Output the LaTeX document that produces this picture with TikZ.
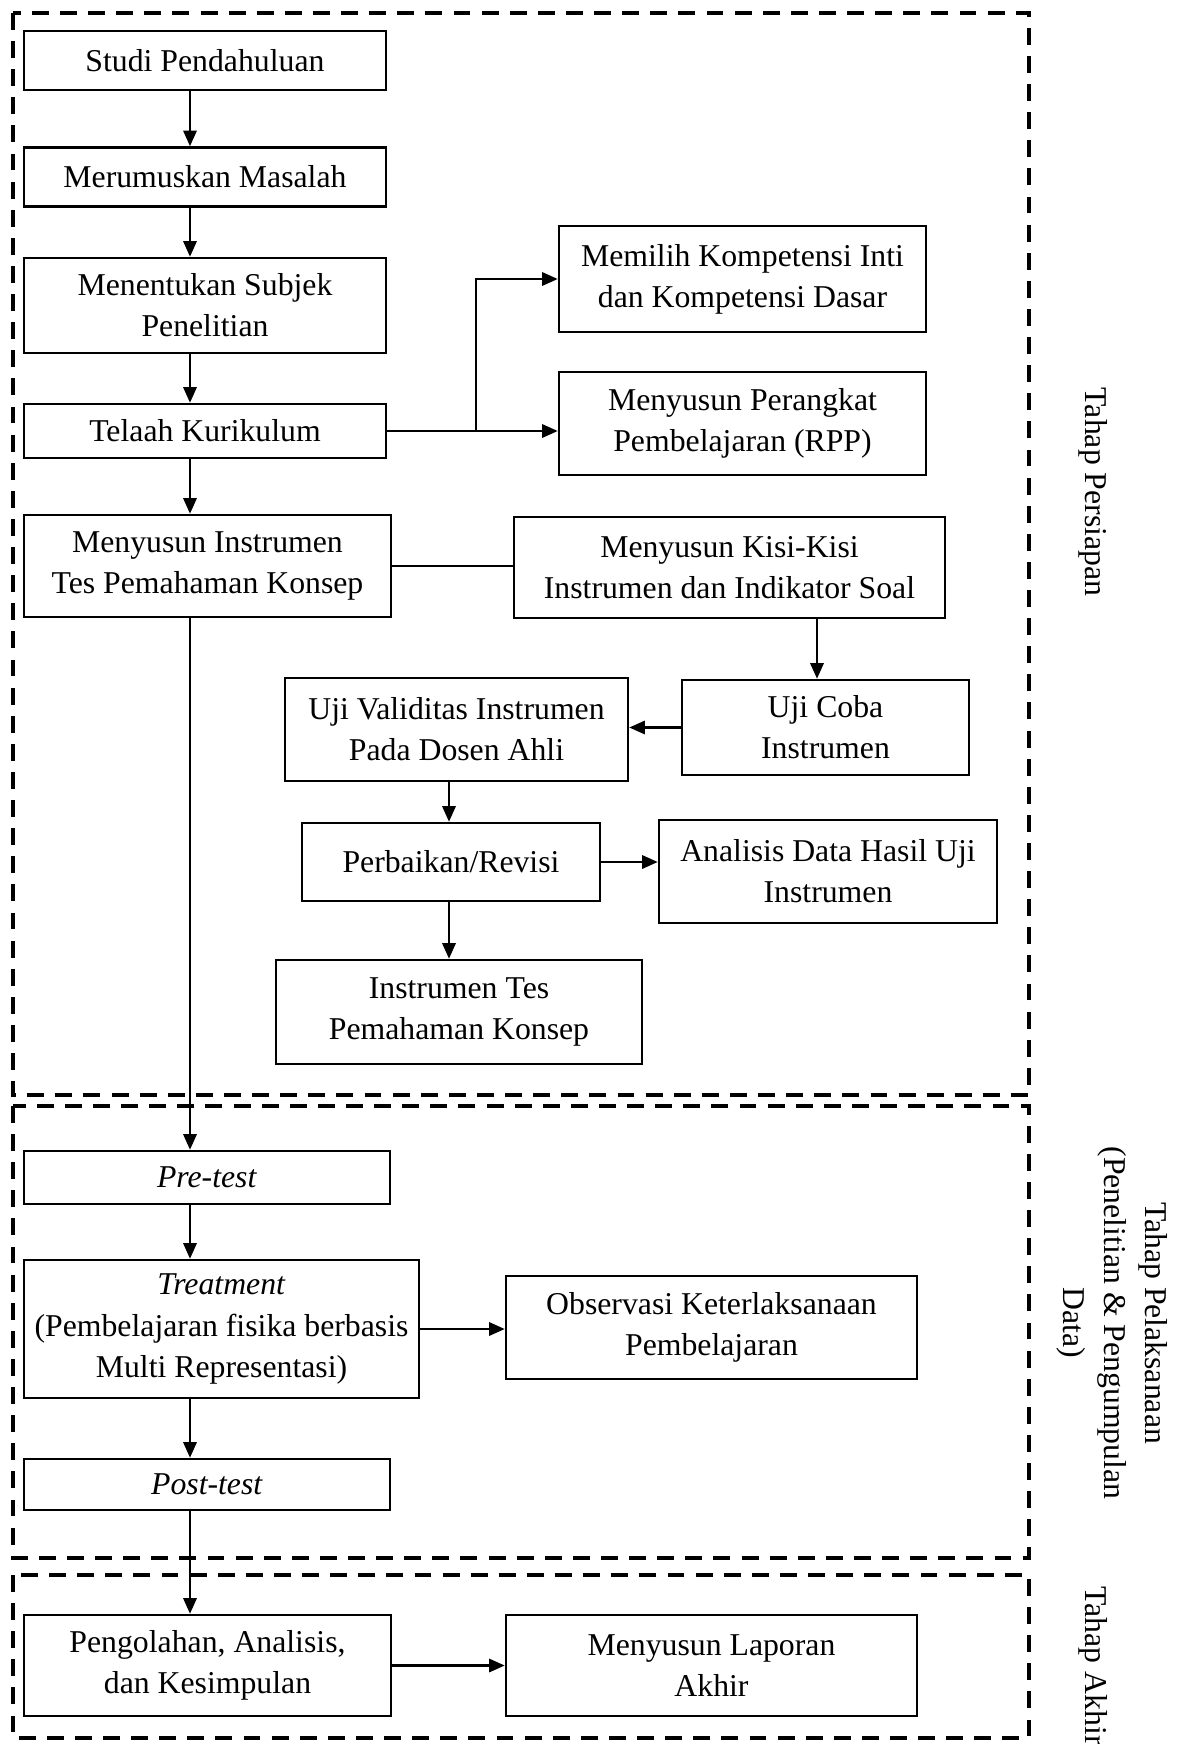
\documentclass[tikz,border=0pt]{standalone}
\usepackage{fontspec}
\setmainfont{Liberation Serif}
\usetikzlibrary{arrows.meta}

\begin{document}
\begin{tikzpicture}
  [x=0.0135cm,y=-0.0135cm,
   every node/.style={font=\fontsize{12.2}{15.8}\selectfont,align=center,inner sep=0pt},
   box/.style 2 args={draw=black,line width=0.9pt,minimum width=#1*0.0135cm,minimum height=#2*0.0135cm},
   arr/.style={line width=1.1pt,-{Triangle[length=6pt,width=5pt]}},
   frame/.style={line width=1.6pt,dash pattern=on 6.5pt off 4.3pt},
   phase/.style={rotate=-90}]
  \useasboundingbox (0,0) rectangle (1181,1744);

  % dashed stages
  \draw[frame] (13,13) rectangle (1029,1095);
  \draw[frame] (13,1106) rectangle (1029,1558);
  \draw[frame] (13,1575) rectangle (1029,1738);

  \node[phase] (lbl1) at (1093,492) {Tahap Persiapan};
  \node[phase] (lbl2) at (1112,1323) {Tahap Pelaksanaan\\(Penelitian \& Pengumpulan\\Data)};
  \node[phase] (lbl3) at (1093,1666) {Tahap Akhir};

  % left column
  \node[box={362}{59}]  (studi)   at (205,60.5)  {Studi Pendahuluan};
  \node[box={362}{59}]  (rumus)   at (205,177)   {Merumuskan Masalah};
  \node[box={362}{95}]  (subjek)  at (205,305.5) {Menentukan Subjek\\Penelitian};
  \node[box={362}{54}]  (telaah)  at (205,431)   {Telaah Kurikulum};
  \node[box={367}{102}] (instr)   at (207.5,566) {Menyusun Instrumen\\Tes Pemahaman Konsep};

  \node[box={367}{106}] (kikd)    at (742.5,279)   {Memilih Kompetensi Inti\\dan Kompetensi Dasar};
  \node[box={367}{103}] (rpp)     at (742.5,423.5) {Menyusun Perangkat\\Pembelajaran (RPP)};
  \node[box={431}{101}] (kisi)    at (729.5,567.5) {Menyusun Kisi-Kisi\\Instrumen dan Indikator Soal};
  \node[box={287}{95}]  (ujicoba) at (825.5,727.5) {Uji Coba\\Instrumen};
  \node[box={343}{103}] (valid)   at (456.5,729.5) {Uji Validitas Instrumen\\Pada Dosen Ahli};
  \node[box={298}{78}]  (revisi)  at (451,862)     {Perbaikan/Revisi};
  \node[box={338}{103}] (analisis) at (828,871.5)  {Analisis Data Hasil Uji\\Instrumen};
  \node[box={366}{104}] (tes)     at (459,1012)    {Instrumen Tes\\Pemahaman Konsep};

  \node[box={366}{53}]  (pre)     at (207,1177.5)  {\textit{Pre-test}};
  \node[box={395}{138}] (treat)   at (221.5,1329)  {\textit{Treatment}\\(Pembelajaran fisika berbasis\\Multi Representasi)};
  \node[box={411}{103}] (obs)     at (711.5,1327.5) {Observasi Keterlaksanaan\\Pembelajaran};
  \node[box={366}{51}]  (post)    at (207,1484.5)  {\textit{Post-test}};
  \node[box={367}{101}] (olah)    at (207.5,1665.5) {Pengolahan, Analisis,\\dan Kesimpulan};
  \node[box={411}{101}] (lapor)   at (711.5,1665.5) {Menyusun Laporan\\Akhir};

  \coordinate (spine) at (190,0);
  \coordinate (fork) at (476,431);
  \coordinate (cobax) at (817,0);
  \coordinate (revx) at (449,0);

  \foreach \from/\to in {studi/rumus, rumus/subjek, subjek/telaah, telaah/instr, instr/pre, pre/treat, treat/post, post/olah}
    \draw[arr] (\from.south -| spine) -- (\to.north -| spine);

  \draw[line width=1.1pt] (telaah.east) -- (fork);
  \draw[arr] (fork) -- (rpp.west |- fork);
  \draw[arr] (fork) |- (kikd.west);
  \draw[line width=0.9pt] (instr.east) -- (kisi.west |- instr.east);
  \draw[arr] (kisi.south -| cobax) -- (ujicoba.north -| cobax);
  \draw[arr] (ujicoba.west) -- (valid.east |- ujicoba.west);
  \draw[arr] (valid.south -| revx) -- (revisi.north -| revx);
  \draw[arr] (revisi.east) -- (analisis.west |- revisi.east);
  \draw[arr] (revisi.south -| revx) -- (tes.north -| revx);
  \draw[arr] (treat.east) -- (obs.west |- treat.east);
  \draw[arr] (olah.east) -- (lapor.west |- olah.east);

\end{tikzpicture}
\end{document}
